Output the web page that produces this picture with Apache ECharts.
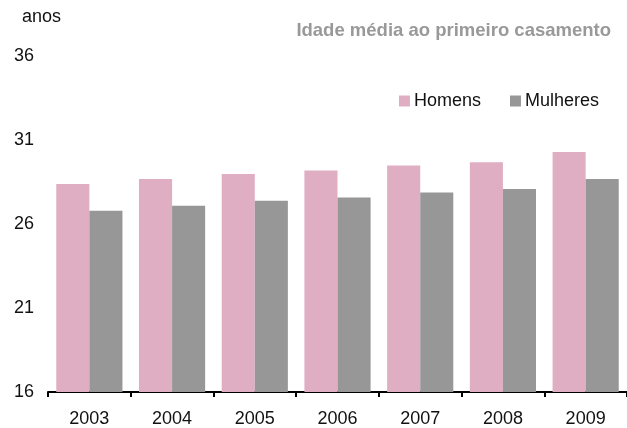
<!DOCTYPE html>
<html>
<head>
<meta charset="utf-8">
<script src="https://cdn.jsdelivr.net/npm/echarts@6/dist/echarts.min.js"></script>
<style>
html,body{margin:0;padding:0;background:#fff;}
#c{width:627px;height:428px;}
</style>
</head>
<body>
<div id="c"></div>
<script>
var categories = ['2003','2004','2005','2006','2007','2008','2009'];
var homens = [28.4, 28.7, 29.0, 29.2, 29.5, 29.7, 30.3];
var mulheres = [26.8, 27.1, 27.4, 27.6, 27.9, 28.1, 28.7];
var seriesNames = ['Homens','Mulheres'];
var yTicks = [16, 21, 26, 31, 36];
var unitLabel = 'anos';
var titleText = 'Idade média ao primeiro casamento';

var FONT = '"Liberation Sans", Arial, sans-serif';
var chart = echarts.init(document.getElementById('c'), null, {renderer:'canvas'});
chart.setOption({
  animation:false,
  backgroundColor:'#ffffff',
  textStyle:{fontFamily:FONT},
  title:{
    text:titleText,
    right:11, top:16, padding:5,
    textStyle:{fontFamily:FONT,fontSize:18.5,fontWeight:'bold',color:'#999999'}
  },
  graphic:[{
    type:'text', left:22, top:8,
    style:{text:unitLabel, font:'18px "Liberation Sans", Arial, sans-serif', fill:'#111111'}
  }],
  legend:{
    data:seriesNames,
    right:23, top:87,
    itemWidth:11, itemHeight:11, itemGap:29,
    icon:'rect',
    textStyle:{fontFamily:FONT,fontSize:18,color:'#111111',padding:[0,0,0,-1]}
  },
  grid:{left:48, width:588, top:56.5, bottom:33.5, containLabel:false},
  xAxis:{
    type:'category',
    data:categories,
    axisLine:{lineStyle:{color:'#000000',width:2}},
    axisTick:{show:true,length:5,lineStyle:{color:'#000000',width:2}},
    axisLabel:{fontFamily:FONT,fontSize:18,color:'#111111',margin:18}
  },
  yAxis:{
    type:'value',
    min:yTicks[0], max:yTicks[yTicks.length-1], interval:5,
    axisLine:{show:false},
    axisTick:{show:false},
    splitLine:{show:false},
    axisLabel:{fontFamily:FONT,fontSize:18,color:'#111111',align:'left',margin:34,
      formatter:function(v){return yTicks.indexOf(v)>=0?String(v):'';}}
  },
  series:[
    {name:seriesNames[0],type:'bar',data:homens,barGap:'0%',barCategoryGap:'20%',itemStyle:{color:'#E0AEC3'}},
    {name:seriesNames[1],type:'bar',data:mulheres,barGap:'0%',barCategoryGap:'20%',itemStyle:{color:'#979797'}}
  ]
});
</script>
</body>
</html>
